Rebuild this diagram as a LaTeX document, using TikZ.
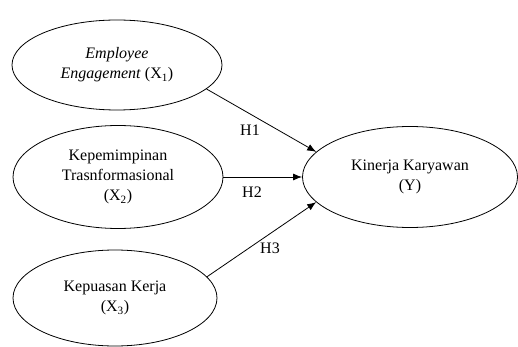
\documentclass[tikz,border=0pt]{standalone}
\usepackage{fontspec}
\setmainfont{Liberation Serif}
\usetikzlibrary{shapes.geometric,arrows.meta}
\begin{document}
\begin{tikzpicture}[x=1pt,y=-1pt,
  var/.style={ellipse,draw,line width=0.8pt,inner sep=0pt,align=center,
    font=\fontsize{16}{20}\selectfont},
  path/.style={line width=0.8pt,-{Latex[length=9pt,width=7pt]}},
  hyp/.style={font=\fontsize{16}{20}\selectfont,inner sep=0pt}]
\useasboundingbox (0,0) rectangle (518,347);
\node[var,minimum width=210,minimum height=90] (x1) at (117,65)
  {\textit{Employee}\\\textit{Engagement} (X\textsubscript{1})};
\node[var,minimum width=210,minimum height=103] (x2) at (118,177)
  {Kepemimpinan\\Trasnformasional\\(X\textsubscript{2})};
\node[var,minimum width=204,minimum height=96] (x3) at (115,298)
  {Kepuasan Kerja\\(X\textsubscript{3})};
\node[var,minimum width=215,minimum height=101] (y) at (410,177)
  {Kinerja Karyawan\\(Y)};
\draw[path] (x1.-15) -- (y.165);
\draw[path] (x2.east) -- (y.west);
\draw[path] (x3.13) -- (y.195);
\node[hyp] (h1) at (250,130) {H1};
\node[hyp] (h2) at (252,192) {H2};
\node[hyp] (h3) at (270,248) {H3};
\end{tikzpicture}
\end{document}
